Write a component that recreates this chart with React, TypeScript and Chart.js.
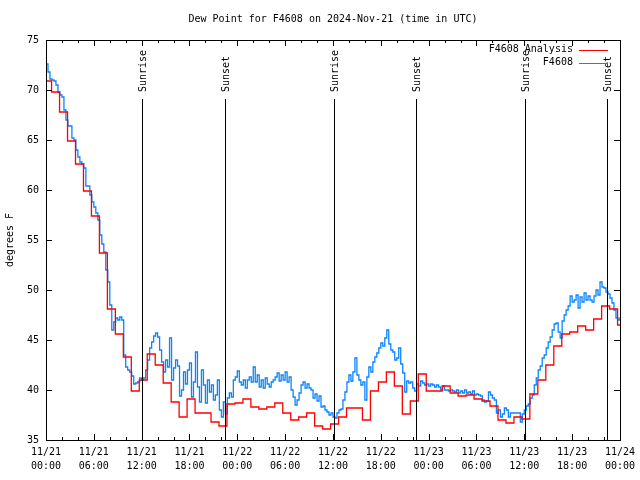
import { useEffect, useRef } from 'react';
import { Chart, registerables } from 'chart.js';

Chart.register(...registerables);

const TITLE = 'Dew Point for F4608 on 2024-Nov-21 (time in UTC)';
const Y_TITLE = 'degrees F';
const SERIES_ANALYSIS = 'F4608 Analysis';
const SERIES_OBS = 'F4608';

// x axis: hours since 2024-11-21 00:00 UTC
const X_TICK_DATES = ['11/21', '11/21', '11/21', '11/21', '11/22', '11/22', '11/22', '11/22', '11/23', '11/23', '11/23', '11/23', '11/24'];
const X_TICK_TIMES = ['00:00', '06:00', '12:00', '18:00', '00:00', '06:00', '12:00', '18:00', '00:00', '06:00', '12:00', '18:00', '00:00'];
const X_MIN_HOURS = 0;
const X_MAX_HOURS = 72;
const X_MAJOR_STEP = 6;
const X_MINOR_STEP = 2;
const Y_MIN = 35;
const Y_MAX = 75;
const Y_STEP = 5;

// sunrise / sunset markers (hours since start)
const SUN_EVENT_LABELS = ['Sunrise', 'Sunset', 'Sunrise', 'Sunset', 'Sunrise', 'Sunset'];
const SUN_EVENT_HOURS = [12.05, 22.4, 36.1, 46.4, 60.15, 70.4];

// observations every 15 minutes, starting at 00:00
const OBS_STEP_HOURS = 0.25;
const OBS_VALUES = [
  72.6, 71.8, 71.1, 71.0, 70.9, 70.5, 69.8, 69.5, 69.3, 68.0, 67.0, 66.4,
  66.4, 65.2, 65.0, 64.0, 63.3, 62.8, 62.6, 62.2, 60.4, 60.4, 59.5, 58.8,
  58.3, 57.7, 57.0, 55.5, 54.6, 53.8, 52.0, 50.8, 48.5, 46.0, 46.8, 47.2,
  47.0, 47.3, 47.0, 43.5, 42.3, 42.0, 41.8, 41.4, 40.6, 40.7, 40.8, 41.2,
  41.0, 41.2, 42.0, 43.0, 44.2, 44.8, 45.4, 45.7, 45.3, 44.0, 42.8, 41.8,
  43.0, 42.3, 45.2, 41.0, 42.2, 43.0, 42.4, 39.4, 40.0, 41.8, 40.6, 42.0,
  42.7, 39.3, 40.8, 43.8, 40.3, 38.8, 42.0, 40.5, 38.7, 41.0, 39.8, 40.5,
  39.0, 39.5, 41.0, 38.0, 37.3, 38.8, 37.6, 39.2, 39.7, 39.3, 41.0, 41.3,
  41.9, 40.8, 40.5, 41.0, 40.2, 41.0, 41.3, 40.8, 42.3, 40.8, 41.5, 40.3,
  41.0, 40.2, 41.2, 40.6, 40.3, 40.8, 41.0, 41.3, 41.7, 40.9, 41.5, 41.0,
  41.8, 40.8, 41.3, 40.0, 39.3, 38.5, 39.0, 39.7, 40.5, 40.8, 40.2, 40.6,
  40.2, 40.0, 39.2, 39.6, 38.9, 39.4, 38.3, 38.4, 38.0, 37.8, 37.5, 37.7,
  37.3, 37.2, 37.7, 38.0, 38.1, 39.0, 39.8, 40.8, 41.5, 40.9, 41.8, 43.2,
  41.5, 41.0, 40.5, 40.8, 39.0, 41.3, 42.3, 41.8, 42.8, 43.3, 43.7, 44.2,
  44.7, 44.4, 45.2, 46.0, 44.6, 44.0, 43.8, 43.0, 43.2, 44.2, 42.6, 41.7,
  39.8, 40.9, 40.7, 40.8, 40.2, 39.9, 40.6, 40.4, 40.9, 40.7, 40.5, 40.6,
  40.4, 40.6, 40.5, 40.3, 40.5, 40.3, 40.0, 40.4, 40.0, 40.0, 39.9, 40.0,
  39.9, 39.8, 40.0, 39.7, 39.9, 39.7, 40.0, 39.7, 39.8, 39.6, 39.9, 39.5,
  39.6, 39.5, 39.4, 39.0, 38.8, 38.9, 39.8, 39.5, 39.2, 39.0, 37.7, 38.0,
  37.3, 37.6, 38.2, 38.0, 37.3, 37.7, 37.7, 37.7, 37.7, 37.7, 36.8, 37.6,
  38.0, 38.4, 38.6, 39.2, 39.5, 40.5, 41.2, 42.0, 42.4, 43.2, 43.5, 44.2,
  44.8, 45.3, 46.0, 46.6, 46.7, 45.8, 45.2, 46.9, 47.5, 48.0, 48.4, 49.4,
  48.8, 49.0, 49.5, 48.2, 49.3, 48.8, 49.7, 49.0, 49.4, 49.0, 48.8, 49.4,
  50.0, 49.5, 50.8, 50.3, 50.2, 49.8, 49.6, 49.2, 48.7, 48.0, 47.2, 47.0,
  47.3,
];

// hourly analysis; each new value takes effect at HH:42
const ANALYSIS_CHANGE_MINUTE = 42;
const ANALYSIS_VALUES = [
  70.9, 69.8, 67.8, 64.9, 62.6, 59.9, 57.4, 53.7, 48.1, 45.6, 43.3, 39.9,
  41.0, 43.6, 42.5, 40.7, 38.8, 37.3, 39.1, 37.7, 37.7, 36.8, 36.4, 38.6,
  38.7, 39.1, 38.3, 38.1, 38.3, 38.7, 37.7, 37.0, 37.3, 37.7, 36.4, 36.1,
  36.6, 37.3, 38.2, 38.2, 37.0, 39.9, 40.8, 41.8, 40.4, 37.6, 38.9, 41.6,
  39.9, 39.9, 40.4, 39.7, 39.4, 39.5, 39.1, 38.9, 38.4, 37.0, 36.7, 37.3,
  37.1, 39.6, 41.0, 42.5, 44.4, 45.6, 45.8, 46.4, 46.0, 47.1, 48.4, 48.1,
  46.5,
];

const RED = '#ff0000';
const BLUE = '#0a84ff';
const FONT_FAMILY = "'DejaVu Sans Mono', monospace";
const FONT_SIZE = 10;

const obsPoints = OBS_VALUES.map((v, i) => ({ x: i * OBS_STEP_HOURS, y: v }));
const analysisPoints = ANALYSIS_VALUES.map((v, k) => ({
  x: k === 0 ? X_MIN_HOURS : k - 1 + ANALYSIS_CHANGE_MINUTE / 60,
  y: v,
}));
analysisPoints.push({ x: X_MAX_HOURS, y: ANALYSIS_VALUES[ANALYSIS_VALUES.length - 1] });

const gnuplotDecor = {
  id: 'gnuplotDecor',
  afterDatasetsDraw(chart: any) {
    const { ctx, chartArea } = chart;
    const xs = chart.scales.x;
    const ys = chart.scales.y;
    const { left, right, top, bottom } = chartArea;
    ctx.save();
    ctx.strokeStyle = '#000';
    ctx.lineWidth = 1;
    ctx.font = `${FONT_SIZE}px ${FONT_FAMILY}`;
    ctx.fillStyle = '#000';

    // sunrise / sunset lines with rotated labels
    SUN_EVENT_HOURS.forEach((h, i) => {
      const px = Math.round(xs.getPixelForValue(h)) + 0.5;
      ctx.beginPath();
      ctx.moveTo(px, top + 59);
      ctx.lineTo(px, bottom);
      ctx.stroke();
      ctx.save();
      ctx.translate(px + 1, top + 52);
      ctx.rotate(-Math.PI / 2);
      ctx.textAlign = 'left';
      ctx.textBaseline = 'middle';
      ctx.fillText(SUN_EVENT_LABELS[i], 0, 0);
      ctx.restore();
    });

    // frame
    ctx.strokeRect(Math.round(left) + 0.5, Math.round(top) + 0.5, Math.round(right - left), Math.round(bottom - top));

    // x ticks (inward, bottom and top)
    for (let h = X_MIN_HOURS; h <= X_MAX_HOURS; h += X_MINOR_STEP) {
      const px = Math.round(xs.getPixelForValue(h)) + 0.5;
      const len = h % X_MAJOR_STEP === 0 ? 6 : 3;
      ctx.beginPath();
      ctx.moveTo(px, bottom);
      ctx.lineTo(px, bottom - len);
      ctx.moveTo(px, top);
      ctx.lineTo(px, top + len);
      ctx.stroke();
    }
    // y ticks (inward, left and right)
    for (let v = Y_MIN; v <= Y_MAX; v += Y_STEP) {
      const py = Math.round(ys.getPixelForValue(v)) + 0.5;
      ctx.beginPath();
      ctx.moveTo(left, py);
      ctx.lineTo(left + 6, py);
      ctx.moveTo(right, py);
      ctx.lineTo(right - 6, py);
      ctx.stroke();
    }

    // legend
    const legendItems = [
      { label: SERIES_ANALYSIS, color: RED },
      { label: SERIES_OBS, color: BLUE },
    ];
    legendItems.forEach((item, i) => {
      const ly = top + 9.5 + i * 13;
      ctx.textAlign = 'right';
      ctx.textBaseline = 'middle';
      ctx.fillStyle = '#000';
      ctx.fillText(item.label, right - 47, ly);
      ctx.strokeStyle = item.color;
      ctx.beginPath();
      ctx.moveTo(right - 41, Math.round(ly) + 0.5);
      ctx.lineTo(right - 12, Math.round(ly) + 0.5);
      ctx.stroke();
    });

    // title
    ctx.fillStyle = '#000';
    ctx.textAlign = 'center';
    ctx.textBaseline = 'middle';
    ctx.fillText(TITLE, (left + right) / 2, 19);
    ctx.restore();
  },
};

export default function App() {
  const canvasRef = useRef<HTMLCanvasElement | null>(null);

  useEffect(() => {
    const canvas = canvasRef.current;
    if (!canvas) return;
    Chart.defaults.color = '#000';
    Chart.defaults.font.family = FONT_FAMILY;
    Chart.defaults.font.size = FONT_SIZE;
    const chart = new Chart(canvas, {
      type: 'line',
      data: {
        datasets: [
          {
            label: SERIES_ANALYSIS,
            data: analysisPoints,
            borderColor: RED,
            borderWidth: 1.3,
            stepped: true,
            pointRadius: 0,
            fill: false,
          },
          {
            label: SERIES_OBS,
            data: obsPoints,
            borderColor: BLUE,
            borderWidth: 1.3,
            stepped: true,
            pointRadius: 0,
            fill: false,
          },
        ],
      },
      options: {
        animation: false,
        responsive: false,
        parsing: false,
        layout: { padding: { top: 40, right: 19, bottom: 0, left: 0 } },
        plugins: {
          legend: { display: false },
          tooltip: { enabled: false },
          title: { display: false },
        },
        scales: {
          x: {
            type: 'linear',
            min: X_MIN_HOURS,
            max: X_MAX_HOURS,
            grid: { display: false, drawTicks: false },
            border: { display: false },
            ticks: {
              stepSize: X_MAJOR_STEP,
              autoSkip: false,
              maxRotation: 0,
              padding: 5,
              color: '#000',
              font: { family: FONT_FAMILY, size: FONT_SIZE, lineHeight: 1.45 },
              callback: (value: any) => {
                const idx = Math.round(Number(value) / X_MAJOR_STEP);
                return [X_TICK_DATES[idx], X_TICK_TIMES[idx]];
              },
            },
            afterFit: (scale: any) => {
              scale.height = 40;
            },
          },
          y: {
            type: 'linear',
            min: Y_MIN,
            max: Y_MAX,
            grid: { display: false, drawTicks: false },
            border: { display: false },
            title: {
              display: true,
              text: Y_TITLE,
              color: '#000',
              font: { family: FONT_FAMILY, size: FONT_SIZE },
              padding: { top: 4, bottom: 0 },
            },
            ticks: {
              stepSize: Y_STEP,
              padding: 7,
              color: '#000',
              font: { family: FONT_FAMILY, size: FONT_SIZE },
            },
            afterFit: (scale: any) => {
              scale.width = 46;
            },
          },
        },
      },
      plugins: [gnuplotDecor],
    });
    return () => chart.destroy();
  }, []);

  return (
    <div style={{ position: 'absolute', left: 0, top: 0, width: 640, height: 480, background: '#fff' }}>
      <canvas ref={canvasRef} width={640} height={480} style={{ display: 'block', width: 640, height: 480 }} />
    </div>
  );
}
